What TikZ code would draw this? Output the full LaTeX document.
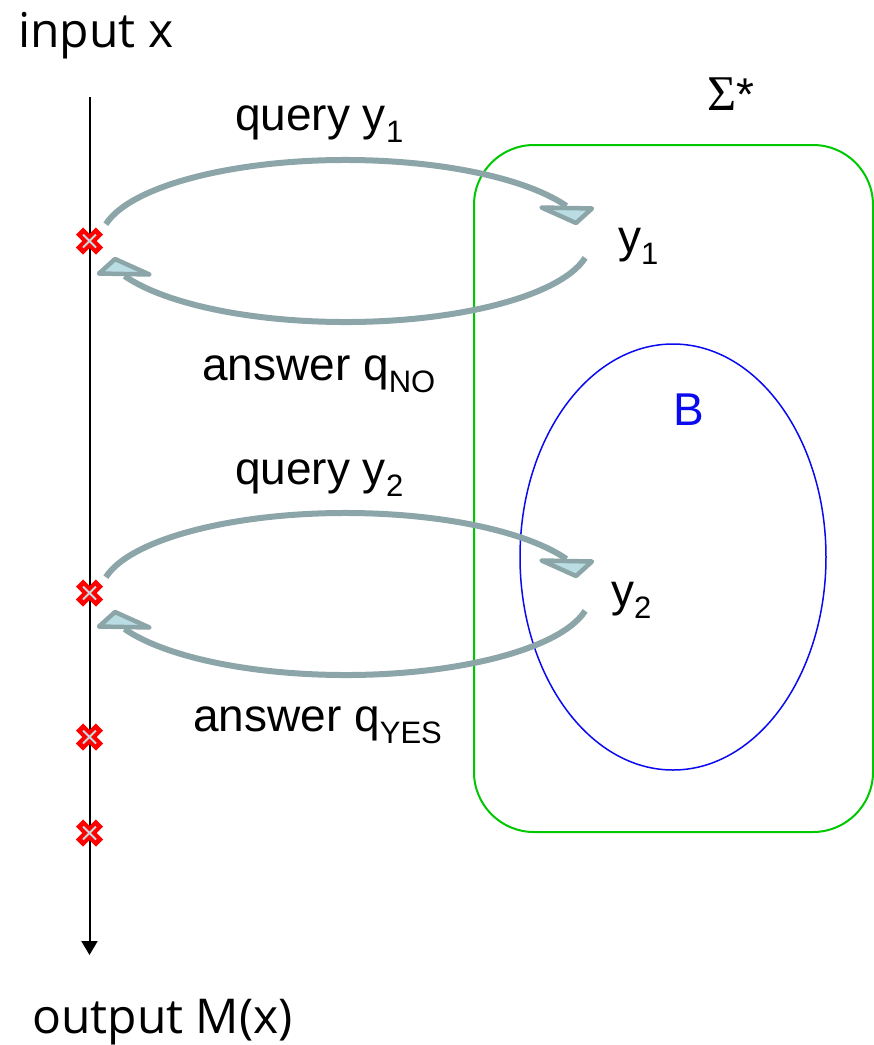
\documentclass[tikz,border=0pt]{standalone}
\usepackage{fontspec}
\setmainfont{Liberation Sans}
\newfontfamily\segoefam{Open Sans}
\newfontfamily\seriffam{Liberation Serif}
\usetikzlibrary{arrows.meta}
\definecolor{loopgray}{HTML}{8CA5A8}
\definecolor{headblue}{HTML}{B9DDE3}
\definecolor{setgreen}{HTML}{00C800}
\definecolor{setblue}{HTML}{0A0AF0}
\definecolor{xinner}{HTML}{C3DADF}
\newcommand\bigtxt{\fontsize{46}{50}\selectfont}
\newcommand\subtxt[1]{\raisebox{-12pt}{\fontsize{31}{31}\selectfont #1}}
\tikzset{
  txt/.style={anchor=base west, inner sep=0pt, font=\bigtxt},
  sego/.style={anchor=base west, inner sep=0pt, font=\segoefam\fontsize{48}{50}\selectfont},
  loopline/.style={draw=loopgray, line width=6pt},
  headtri/.style={fill=headblue, draw=loopgray, line width=4.5pt, line join=round},
  redx/.pic={
    \draw[red, line width=10pt, line cap=butt] (-10,-10) -- (10,10) (-10,10) -- (10,-10);
    \draw[xinner, line width=1.8pt] (-6.5,-6.5) -- (6.5,6.5) (-6.5,6.5) -- (6.5,-6.5);
  }
}
\begin{document}
\begin{tikzpicture}[x=1pt,y=-1pt]
\useasboundingbox (0,0) rectangle (874,1045);
% sets
\draw[setgreen, line width=2pt, rounded corners=60pt] (474,145) rectangle (873,832);
\draw[setblue, line width=1.5pt] (673,557) ellipse [x radius=153, y radius=213];
% time line
\coordinate (top) at (89.5,97);
\coordinate (bot) at (89.5,955);
\draw[line width=2pt, -{Triangle[width=16pt,length=14pt]}] (top) -- (bot);
% loops
\foreach \dy in {0,353}{
  \begin{scope}[yshift=-\dy pt]
    \coordinate (c) at (345.5,241);
    \draw[loopline] (c) ++(192:245 and 81) arc[start angle=192, end angle=334.4, x radius=245, y radius=81];
    \draw[loopline] (c) ++(12:245 and 81) arc[start angle=12, end angle=154.4, x radius=245, y radius=81];
    \draw[headtri] (541.5,207.5) -- (592,208.5) -- (576,223) -- cycle;
    \draw[headtri] (149.5,274.5) -- (99,273.5) -- (115,259) -- cycle;
  \end{scope}
}
% crosses
\pic at (89.5,241) {redx};
\pic at (89.5,593) {redx};
\pic at (89.5,737) {redx};
\pic at (89.5,833) {redx};
% texts
\node[sego] (inp) at (18,47) {input x};
\node[sego] (outp) at (32,1033) {output M(x)};
\node[txt] (q1) at (235,130) {query y\subtxt{1}};
\node[txt] (a1) at (202,380) {answer q\subtxt{NO}};
\node[txt] (q2) at (235,484) {query y\subtxt{2}};
\node[txt] (a2) at (193,731) {answer q\subtxt{YES}};
\node[txt] (y1) at (618,252) {y\subtxt{1}};
\node[txt] (y2) at (611,606) {y\subtxt{2}};
\node[txt, text=setblue] (B) at (673,425) {B};
\node[anchor=base west, inner sep=0pt] (sig) at (707,110) {{\seriffam\fontsize{50}{50}\selectfont Σ}{\bigtxt *}};
\end{tikzpicture}
\end{document}
